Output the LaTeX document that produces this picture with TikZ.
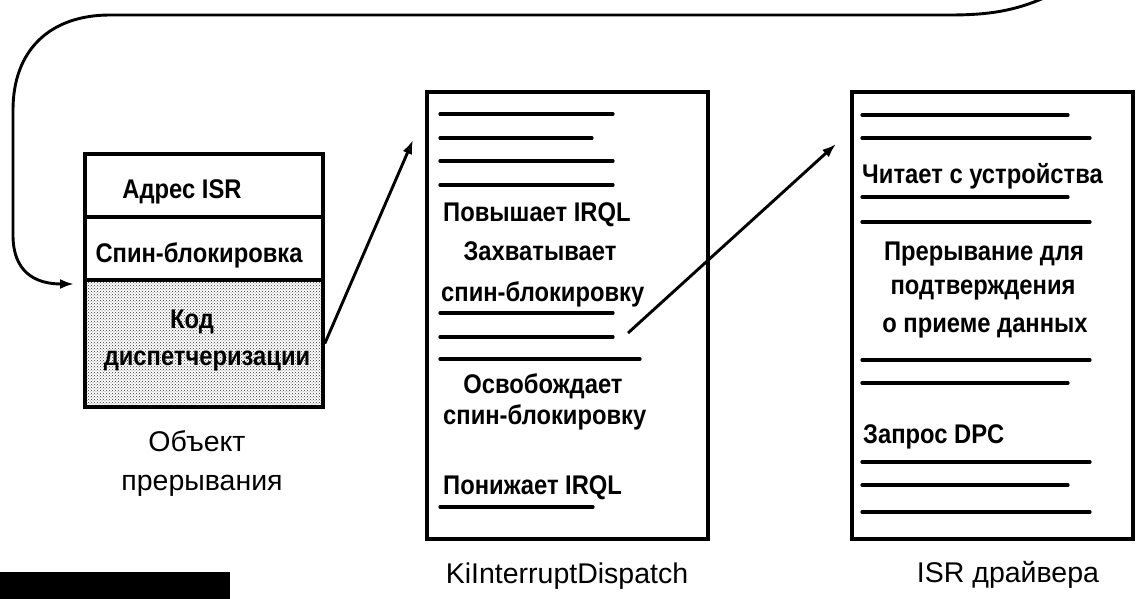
\documentclass[tikz,border=0pt]{standalone}
\usepackage{fontspec}
\setmainfont{Liberation Sans}
\newfontfamily\boxfont{Liberation Sans}[FakeStretch=0.88]
\usetikzlibrary{arrows.meta, patterns}
\tikzset{>={Latex[length=14pt,width=10pt]}}
\tikzset{
    box/.style={draw, line width=3.6pt, inner sep=0pt},
    objrow/.style={box, minimum width=238pt},
    codebox/.style={box, minimum width=281pt, minimum height=447pt},
    codeline/.style={line width=3.3pt, line cap=round},
    link/.style={line width=2.9pt},
    txt/.style={inner sep=0pt, font=\boxfont\bfseries\fontsize{27}{31}\selectfont},
    caption/.style={inner sep=0pt, font=\fontsize{28.5}{33}\selectfont}
}

\begin{document}
\begin{tikzpicture}[x=1pt, y=-1pt]
    \useasboundingbox (0,0) rectangle (1141,599);
    \clip (0,0) rectangle (1141,599);

    % interrupt object
    \node[objrow, minimum height=63pt] (addr) at (204,185.5) {};
    \node[objrow, minimum height=63pt] (lock) at (204,248.5) {};
    \node[objrow, minimum height=127pt, pattern=crosshatch dots, pattern color=black!80] (code) at (204,343.5) {};
    \node[txt, anchor=base] (addrtxt) at (182,199) {Адрес ISR};
    \node[txt, anchor=base] (locktxt) at (199,262) {Спин-блокировка};
    \node[txt, anchor=base] (codetxt1) at (192,328) {Код};
    \node[txt, anchor=base] (codetxt2) at (207,365) {диспетчеризации};
    \node[caption, anchor=base] (objcap1) at (197,451) {Объект};
    \node[caption, anchor=base] (objcap2) at (202,490) {прерывания};

    % KiInterruptDispatch
    \node[codebox] (disp) at (567.5,315.5) {};
    \foreach \y/\x in {114/613, 138/592, 161/613, 185/613, 313/613, 337/613, 359/640, 507/593}
        \draw[codeline] (440,\y) -- (\x,\y);
    \node[txt, anchor=base west] (raise) at (443,222) {Повышает IRQL};
    \node[txt, anchor=base] (acq1) at (540,260) {Захватывает};
    \node[txt, anchor=base west] (acq2) at (441,301) {спин-блокировку};
    \node[txt, anchor=base] (rel1) at (543,393) {Освобождает};
    \node[txt, anchor=base west] (rel2) at (443,424) {спин-блокировку};
    \node[txt, anchor=base west] (lower) at (443,494) {Понижает IRQL};
    \node[caption, anchor=base] (dispcap) at (567,583) {KiInterruptDispatch};

    % driver ISR
    \node[codebox] (drv) at (992.5,315.5) {};
    \foreach \y/\x in {115/1068, 138/1090, 197/1068, 222/1090, 360/1090, 383/1068, 462/1090, 485/1068, 512/1090}
        \draw[codeline] (862,\y) -- (\x,\y);
    \node[txt, anchor=base west] (read) at (862,184) {Читает с устройства};
    \node[txt, anchor=base] (ack1) at (984,260) {Прерывание для};
    \node[txt, anchor=base] (ack2) at (983,294) {подтверждения};
    \node[txt, anchor=base] (ack3) at (985,332) {о приеме данных};
    \node[txt, anchor=base west] (dpc) at (863,443) {Запрос DPC};
    \node[caption, anchor=base] (drvcap) at (1008,582) {ISR драйвера};

    % connectors
    \coordinate (loopfrom) at (1075,-18);
    \coordinate (loopin) at (74,284);
    \coordinate (dispin) at (413,140);
    \coordinate (callsite) at (628,333);
    \coordinate (drvin) at (836,144);

    \draw[link,->] (loopfrom) .. controls (1030,8) and (1000,15) .. (950,15)
        -- (110,15) .. controls (50,15) and (13,50) .. (13,110)
        -- (13,235) .. controls (13,272) and (35,284) .. (loopin);
    \draw[link,->] (code.east) -- (dispin);
    \draw[link,->] (callsite) -- (drvin);

    \fill (0,572) rectangle (230,599);
\end{tikzpicture}
\end{document}
